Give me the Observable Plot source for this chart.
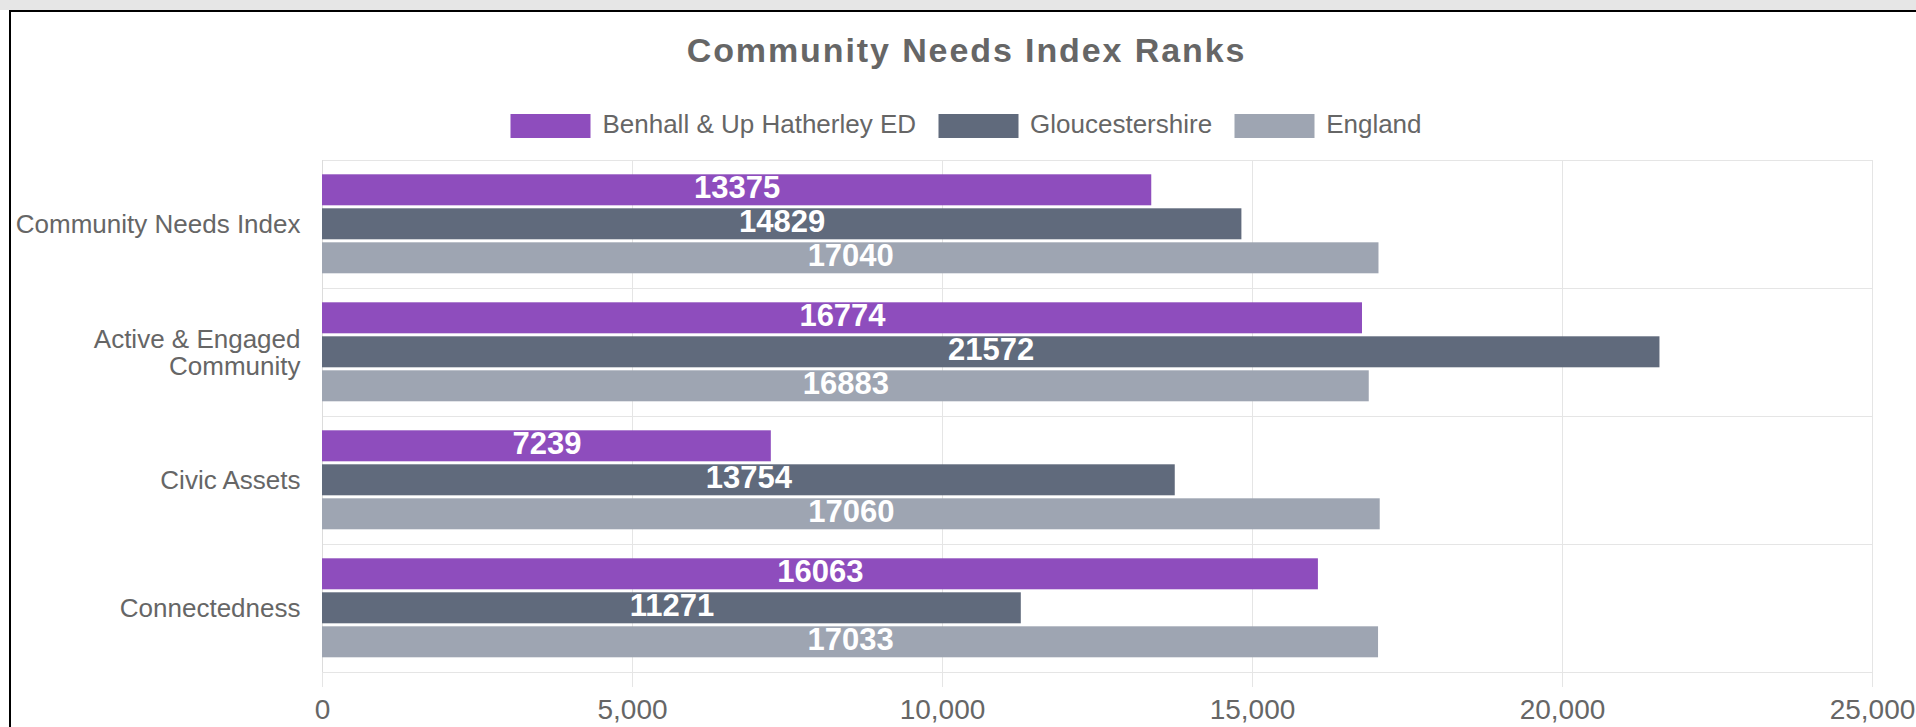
<!DOCTYPE html>
<html>
<head>
<meta charset="utf-8">
<script src="https://cdn.jsdelivr.net/npm/d3@7"></script>
<script src="https://cdn.jsdelivr.net/npm/@observablehq/plot@0.6"></script>
<style>
  html, body { margin: 0; padding: 0; background: #fff; }
  body { width: 1916px; height: 727px; position: relative; overflow: hidden; font-family: "Liberation Sans", Arial, sans-serif; }
  #band { position: absolute; left: 0; top: 0; width: 1916px; height: 10px; background: #e6e6e6; }
  #frame { position: absolute; left: 9px; top: 10px; width: 1907px; height: 717px; border-top: 2px solid #000; border-left: 2px solid #000; }
  #title { position: absolute; left: 0; top: 20.5px; width: 1905px; text-align: center; font-size: 34px; line-height: 34px; font-weight: bold; color: #666; letter-spacing: 1.9px; transform: translateX(3px); }
  #legend { position: absolute; left: 0; top: 99px; width: 1905px; display: flex; justify-content: center; align-items: flex-start; font-size: 26px; line-height: 26px; color: #666; transform: translateX(2.5px); }
  .item { display: flex; align-items: flex-start; margin: 0 11px; }
  .sw { width: 80px; height: 24px; margin-top: 3px; margin-right: 12px; box-sizing: border-box; }
  #chart { position: absolute; left: 0; top: 138px; }
</style>
</head>
<body>
<div id="band"></div>
<div id="frame">
  <div id="title"></div>
  <div id="legend"></div>
  <div id="chart"></div>
</div>
<script>
const title = "Community Needs Index Ranks";
const categories = ["Community Needs Index", "Active & Engaged Community", "Civic Assets", "Connectedness"];
const categoryLabels = ["Community Needs Index", "Active & Engaged\nCommunity", "Civic Assets", "Connectedness"];
const series = ["Benhall & Up Hatherley ED", "Gloucestershire", "England"];
const benhall = [13375, 16774, 7239, 16063];
const gloucestershire = [14829, 21572, 13754, 11271];
const england = [17040, 16883, 17060, 17033];
const xTicks = [0, 5000, 10000, 15000, 20000, 25000];
const colors = ["#8E4DBD", "#606A7C", "#9EA5B2"];

const seriesValues = [benhall, gloucestershire, england];
const data = [];
categories.forEach((c, i) => {
  series.forEach((s, j) => {
    data.push({category: c, series: s, value: seriesValues[j][i]});
  });
});

document.getElementById("title").textContent = title;

const legend = document.getElementById("legend");
series.forEach((s, j) => {
  const item = document.createElement("div");
  item.className = "item";
  const sw = document.createElement("div");
  sw.className = "sw";
  sw.style.background = colors[j];
  const lab = document.createElement("span");
  lab.textContent = s;
  item.appendChild(sw);
  item.appendChild(lab);
  legend.appendChild(item);
});

const labelOf = new Map(categories.map((c, i) => [c, categoryLabels[i]]));

const chart = Plot.plot({
  width: 1905,
  height: 577,
  marginLeft: 311,
  marginRight: 44,
  marginTop: 8.7,
  marginBottom: 54.1,
  style: {fontFamily: "'Liberation Sans', Arial, sans-serif", fontSize: "26px", color: "#666", background: "transparent", overflow: "visible"},
  x: {domain: [0, 25000]},
  y: {domain: series, paddingInner: 0.1, paddingOuter: 0.425, axis: null},
  fy: {domain: categories, paddingInner: 0, paddingOuter: 0},
  color: {domain: series, range: colors},
  marks: [
    Plot.gridX(xTicks, {stroke: "#e5e5e5", strokeOpacity: 1}),
    Plot.frame({stroke: "#e5e5e5", strokeOpacity: 1}),
    Plot.ruleX([0], {stroke: "#dcdcdc", strokeOpacity: 1}),
    Plot.barX(data, {x: "value", y: "series", fy: "category", fill: "series"}),
    Plot.text(data, {x: d => d.value / 2, y: "series", fy: "category", text: d => String(d.value), fill: "white", fontWeight: "bold", fontSize: 31, dy: -2}),
    Plot.axisX({ticks: xTicks, tickFormat: d3.format(","), tickSize: 15, tickPadding: 12, stroke: "#e5e5e5", strokeOpacity: 1, fill: "#666", fontSize: 28, label: null}),
    Plot.axisFy({anchor: "left", tickSize: 0, tickPadding: 22, fill: "#666", fontSize: 26, lineHeight: 1.04, tickFormat: d => labelOf.get(d), label: null})
  ]
});
document.getElementById("chart").appendChild(chart);
</script>
</body>
</html>
